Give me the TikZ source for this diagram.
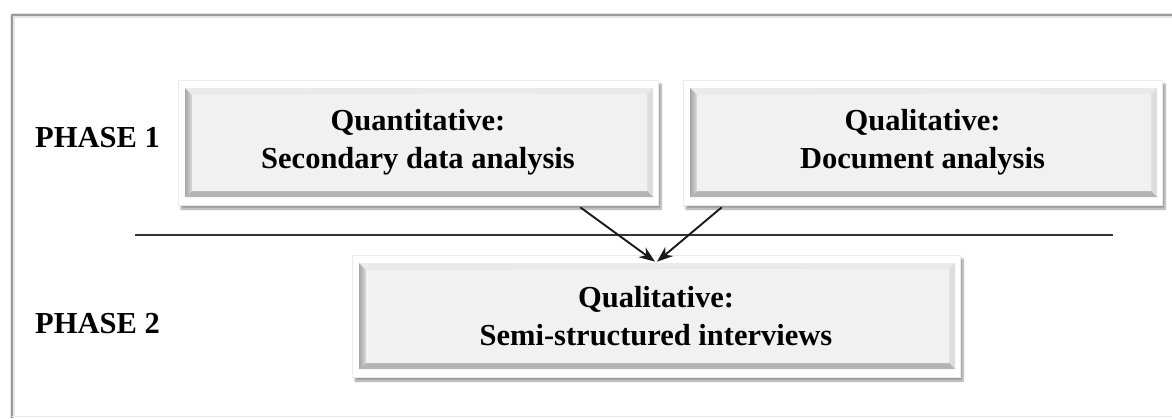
\documentclass[tikz,border=0pt]{standalone}
\usepackage{fontspec}
\setmainfont{Liberation Serif}
\usetikzlibrary{calc,arrows.meta,shadows.blur}

\definecolor{facegray}{HTML}{F1F1F1}
\definecolor{bevtop}{HTML}{EAEAEA}
\definecolor{bevright}{HTML}{DEDEDE}
\definecolor{bevbottom}{HTML}{B4B4B4}
\definecolor{bevleft}{HTML}{C2C2C2}
\definecolor{framegray}{HTML}{9A9A9A}

\tikzset{
  txt/.style={font=\fontsize{30.5}{38}\selectfont\bfseries, text=black},
  bevelbox/.style={
    rectangle, txt, align=center, inner sep=0pt,
    fill=white, draw=black!8, line width=0.6pt,
    blur shadow={shadow xshift=3pt, shadow yshift=-4pt, shadow blur steps=8, shadow opacity=40},
    path picture={
      \coordinate (pa) at ([shift={(7pt,-8pt)}]path picture bounding box.north west);
      \coordinate (pb) at ([shift={(-5pt,-8pt)}]path picture bounding box.north east);
      \coordinate (pc) at ([shift={(-5pt,8pt)}]path picture bounding box.south east);
      \coordinate (pd) at ([shift={(7pt,8pt)}]path picture bounding box.south west);
      \coordinate (fa) at ($(pa)+(7pt,-7pt)$);
      \coordinate (fb) at ($(pb)+(-6pt,-6pt)$);
      \coordinate (fc) at ($(pc)+(-6pt,6pt)$);
      \coordinate (fd) at ($(pd)+(7pt,6pt)$);
      \fill[bevtop] (pa) -- (pb) -- (fb) -- (fa) -- cycle;
      \fill[bevright] (pb) -- (pc) -- (fc) -- (fb) -- cycle;
      \fill[bevbottom] (pd) -- (pc) -- (fc) -- (fd) -- cycle;
      \shade[left color=bevleft!85!black, right color=bevleft!60!white]
        (pa) -- (pd) -- (fd) -- (fa) -- cycle;
      \fill[facegray] (fa) -- (fb) -- (fc) -- (fd) -- cycle;
    }
  },
  phase/.style={txt, anchor=west, inner sep=0pt},
  flow/.style={line width=1.9pt, black!90, -{Stealth[length=16pt,width=12pt]}},
  divider/.style={line width=1.8pt, black!80},
}

\begin{document}
\begin{tikzpicture}[x=1pt,y=-1pt]
  \useasboundingbox (0,0) rectangle (1172,418);

  % outer frame (top and left edges carry the shadow)
  \draw[line width=5pt, black!10] (12,15) -- (1172,15);
  \draw[line width=5pt, black!10] (12,15) -- (12,418);
  \draw[line width=2.2pt, framegray] (1172,15) -- (12,15) -- (12,418);
  \draw[line width=1pt, black!8] (12,416.5) -- (1172,416.5);

  % phase labels
  \node[phase] (p1) at (35,138) {PHASE 1};
  \node[phase] (p2) at (35,324) {PHASE 2};

  % method boxes
  \node[bevelbox, minimum width=480pt, minimum height=125pt] (quant) at (418,142.5)
    {Quantitative:\\Secondary data analysis};
  \node[bevelbox, minimum width=479pt, minimum height=125pt] (qual) at (922.5,142.5)
    {Qualitative:\\Document analysis};
  \node[bevelbox, minimum width=608pt, minimum height=122pt] (semi) at (656,316)
    {Qualitative:\\Semi-structured interviews};

  % phase divider
  \coordinate (divL) at (135,235);
  \coordinate (divR) at (1113,235);
  \draw[divider] (divL) -- (divR);

  % connectors into phase 2
  \coordinate (tipA) at ($(semi.north)+(-1pt,-7pt)$);
  \coordinate (tipB) at ($(semi.north)+(1pt,-7pt)$);
  \draw[flow] ($(quant.south east)+(-78pt,-2pt)$) -- (tipA);
  \draw[flow] ($(qual.south west)+(39pt,-2pt)$) -- (tipB);
\end{tikzpicture}
\end{document}
